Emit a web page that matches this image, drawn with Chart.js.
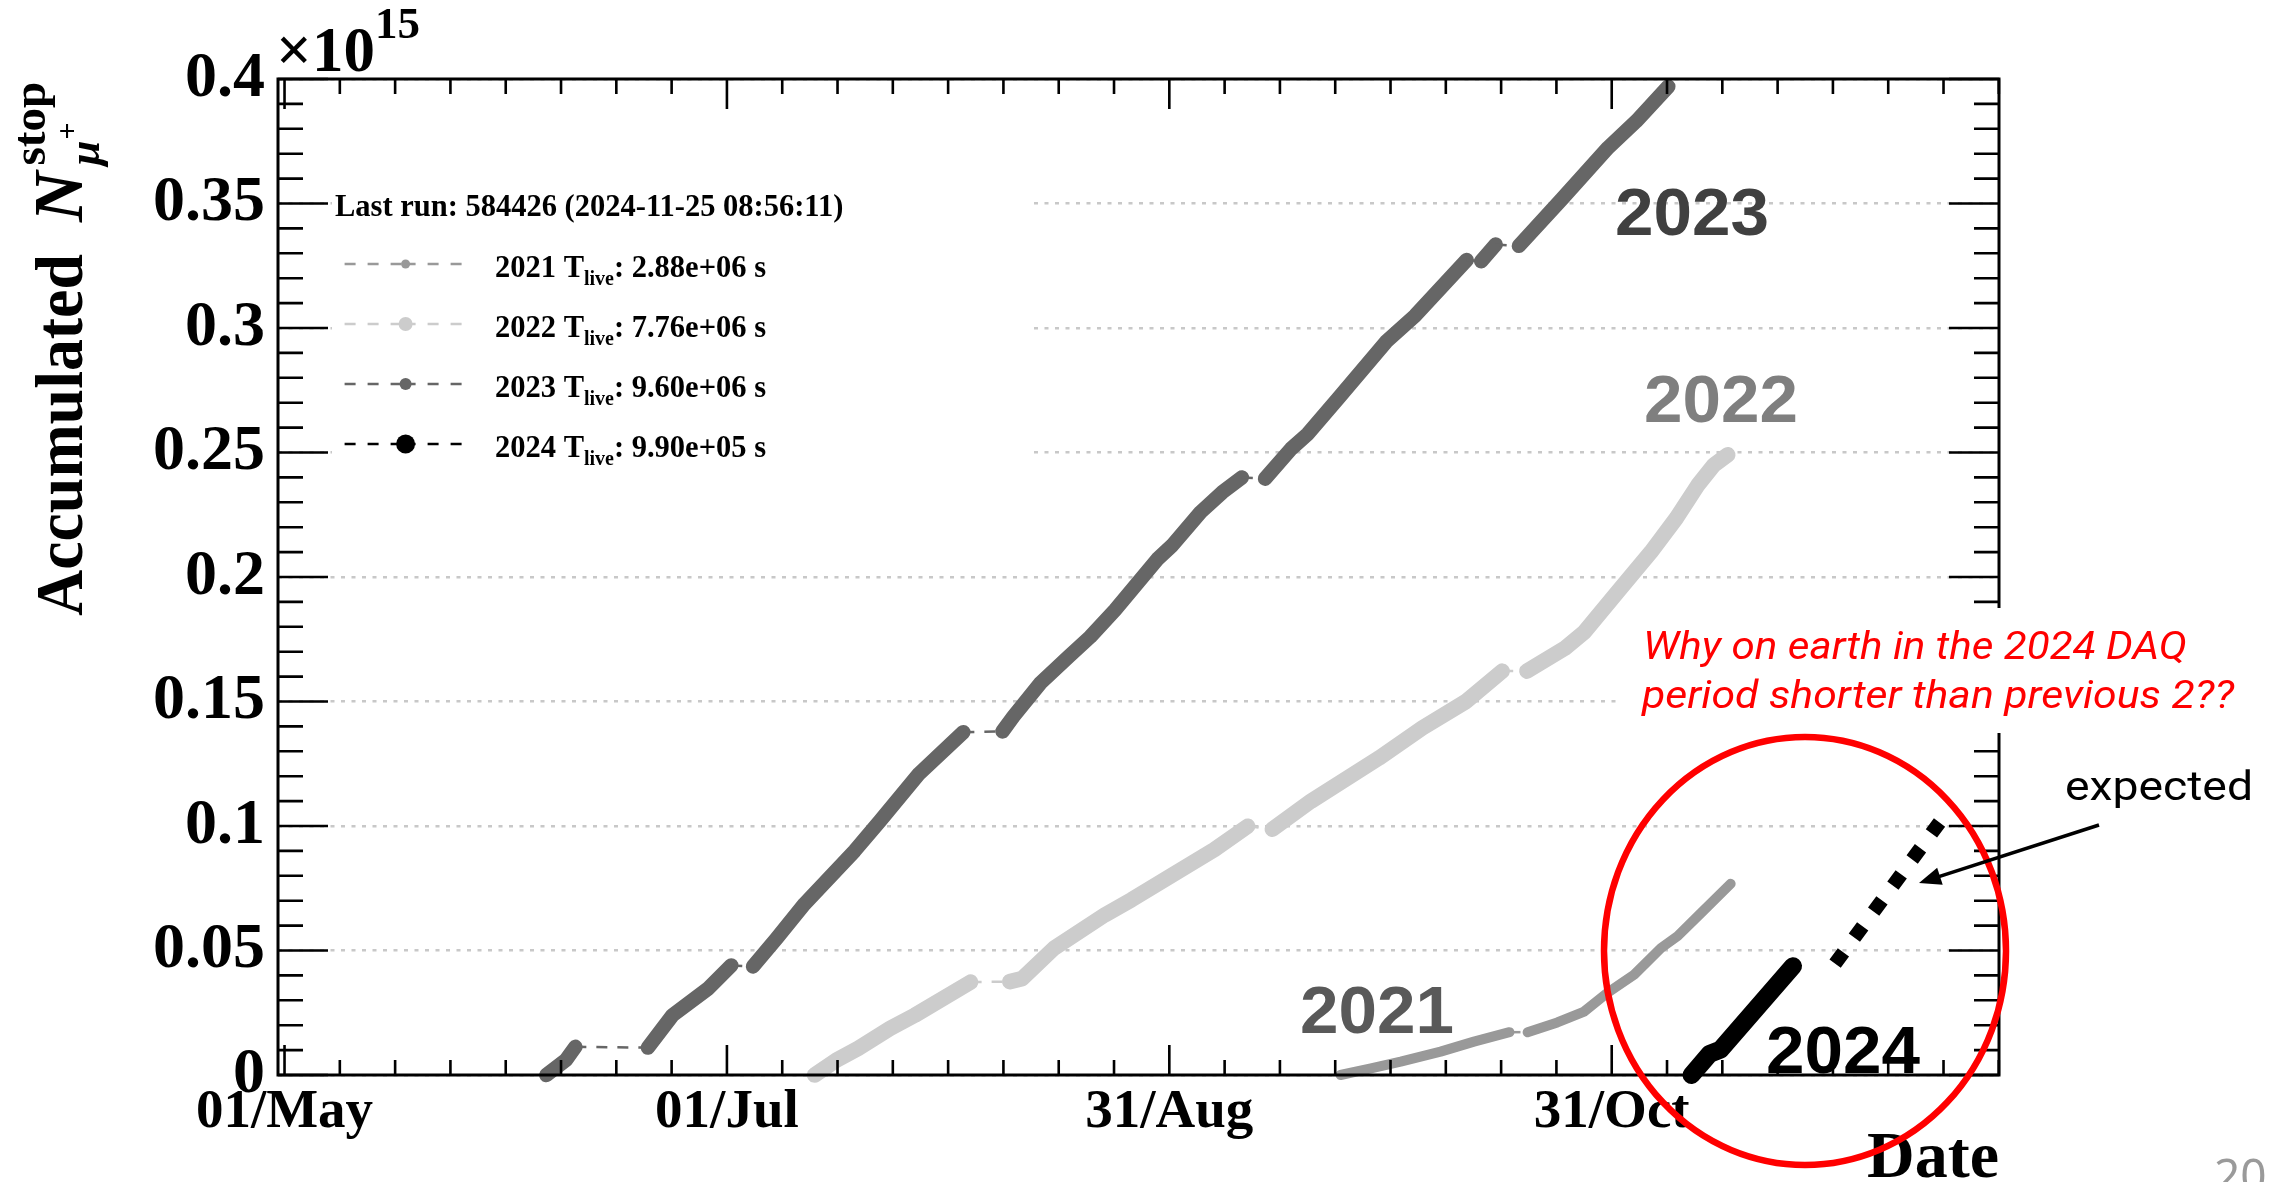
<!DOCTYPE html>
<html>
<head>
<meta charset="utf-8">
<title>Accumulated stopped mu+ per run year</title>
<script src="https://cdn.jsdelivr.net/npm/chart.js"></script>
<style>
  html, body { margin: 0; padding: 0; background: #ffffff; }
  canvas { display: block; }
</style>
</head>
<body>
<canvas id="chart" width="2273" height="1182"></canvas>
<script>
// Accumulated number of stopped mu+ against calendar date, one curve per run year.
// x: days counted from 01/May, y: accumulated count in units of 1e15.

const xTickDates  = ['05-01', '07-01', '08-31', '10-31'];
const xTickLabels = ['01/May', '01/Jul', '31/Aug', '31/Oct'];
const yTickValues = [0, 0.05, 0.1, 0.15, 0.2, 0.25, 0.3, 0.35, 0.4];
const yTickLabels = ['0', '0.05', '0.1', '0.15', '0.2', '0.25', '0.3', '0.35', '0.4'];

// Each inner array is one continuous stretch of data taking; the gaps between
// stretches are drawn as thin dashed connectors.
const days2021 = [
  [145.6, 149.8, 153.9, 159.4, 164.0, 168.9],
  [171.4, 175.5, 179.2, 182.4, 186.1, 189.8, 192.1, 195.3, 199.4]
];
const vals2021 = [
  [0, 0.0027, 0.0054, 0.0094, 0.0134, 0.0172],
  [0.0172, 0.0211, 0.0255, 0.0330, 0.0403, 0.0510, 0.0558, 0.0650, 0.0768]
];

const days2022 = [
  [73.1, 76.1, 79.1, 83.5, 86.9, 94.6],
  [100.0, 101.7, 106.1, 113.1, 116.8, 122.1, 128.2, 132.8],
  [136.2, 141.5, 150.9, 156.9, 162.9, 167.9],
  [171.3, 176.5, 179.2, 183.8, 188.4, 191.9, 194.9, 197.1, 199.0]
];
const vals2022 = [
  [0, 0.0060, 0.0107, 0.0187, 0.0240, 0.0373],
  [0.0375, 0.0387, 0.0509, 0.0643, 0.0704, 0.0798, 0.0905, 0.0999],
  [0.0987, 0.1099, 0.1273, 0.1394, 0.1500, 0.1622],
  [0.1622, 0.1713, 0.1778, 0.1940, 0.2100, 0.2236, 0.2370, 0.2450, 0.2491]
];

const days2023 = [
  [36.1, 38.8, 40.1],
  [50.1, 53.5, 58.4, 61.6],
  [64.6, 67.8, 71.7, 78.6, 82.1, 87.5, 93.6],
  [99.0, 100.5, 104.2, 108.1, 111.1, 114.5, 120.4, 122.4, 126.3, 129.3, 132.0],
  [135.2, 138.8, 141.1, 145.3, 151.9, 155.9, 163.0],
  [165.0, 167.0],
  [170.2, 176.1, 182.5, 186.4, 190.8]
];
const vals2023 = [
  [0, 0.0060, 0.0113],
  [0.0110, 0.0240, 0.0347, 0.0440],
  [0.0436, 0.0547, 0.0687, 0.0900, 0.1020, 0.1210, 0.1377],
  [0.1380, 0.1440, 0.1573, 0.1680, 0.1760, 0.1867, 0.2073, 0.2127, 0.2260, 0.2340, 0.2400],
  [0.2395, 0.2515, 0.2575, 0.2718, 0.2945, 0.3050, 0.3273],
  [0.3268, 0.3335],
  [0.3330, 0.3517, 0.3724, 0.3831, 0.3970]
];

const days2024 = [[194.0, 196.5, 198.0, 208.0]];
const vals2024 = [[0, 0.0085, 0.0102, 0.0437]];

// Extrapolation of the 2024 rate ("expected")
const expectedDays = [213.8, 228.2];
const expectedVals = [0.0447, 0.1014];

const legendYears = ['2021', '2022', '2023', '2024'];
const legendTlive = ['2.88e+06', '7.76e+06', '9.60e+06', '9.90e+05'];
const lastRunText = 'Last run: 584426 (2024-11-25 08:56:11)';

const seriesColors = { '2021': '#999999', '2022': '#cccccc', '2023': '#666666', '2024': '#000000' };
const seriesWidths = { '2021': 10, '2022': 15.5, '2023': 14.5, '2024': 18 };
const legendMarkerR = { '2021': 4.5, '2022': 7, '2023': 6, '2024': 9.5 };

const SERIF = '"Liberation Serif", "Times New Roman", serif';
const SANS = '"Liberation Sans", Arial, sans-serif';

function dayOfSeason(md) {
  const [m, d] = md.split('-').map(Number);
  return (Date.UTC(2021, m - 1, d) - Date.UTC(2021, 4, 1)) / 86400000;
}
const xTickDays = xTickDates.map(dayOfSeason);
const xMajorStep = xTickDays[1] - xTickDays[0];
const xMinorStep = xMajorStep / 8;

function buildSeries(dayRuns, valRuns) {
  const pts = [];
  const gapAfter = new Set();
  dayRuns.forEach((run, r) => {
    run.forEach((d, i) => pts.push({ x: d, y: valRuns[r][i] }));
    if (r < dayRuns.length - 1) gapAfter.add(pts.length - 1);
  });
  return { pts, gapAfter };
}

function seriesDataset(year, dayRuns, valRuns) {
  const { pts, gapAfter } = buildSeries(dayRuns, valRuns);
  const isGap = ctx => gapAfter.has(ctx.p0DataIndex);
  return {
    label: year,
    data: pts,
    showLine: true,
    borderColor: seriesColors[year],
    backgroundColor: seriesColors[year],
    borderWidth: seriesWidths[year],
    borderCapStyle: 'round',
    borderJoinStyle: 'round',
    pointRadius: 0,
    tension: 0,
    clip: false,
    segment: {
      borderWidth: ctx => isGap(ctx) ? 2.5 : undefined,
      borderDash: ctx => isGap(ctx) ? [11, 10] : undefined,
      borderCapStyle: ctx => isGap(ctx) ? 'butt' : undefined
    }
  };
}

const datasets = [
  seriesDataset('2024', days2024, vals2024),
  {
    label: 'expected',
    data: expectedDays.map((d, i) => ({ x: d, y: expectedVals[i] })),
    showLine: true,
    borderColor: '#000000',
    borderWidth: 14,
    borderDash: [14, 18.4],
    borderCapStyle: 'butt',
    pointRadius: 0,
    clip: false
  },
  seriesDataset('2023', days2023, vals2023),
  seriesDataset('2022', days2022, vals2022),
  seriesDataset('2021', days2021, vals2021)
];

// White legend block with the run summary (drawn over the grid, under the data)
const runLegend = {
  id: 'runLegend',
  beforeDatasetsDraw(chart) {
    const ctx = chart.ctx;
    ctx.save();
    ctx.fillStyle = '#ffffff';
    ctx.fillRect(332, 160, 700, 320);
    ctx.fillStyle = '#000000';
    ctx.textBaseline = 'alphabetic';
    ctx.textAlign = 'left';
    ctx.font = 'bold 30.5px ' + SERIF;
    ctx.fillText(lastRunText, 335, 216);
    legendYears.forEach((yr, i) => {
      const cy = 264 + i * 60;
      const col = seriesColors[yr];
      ctx.strokeStyle = col;
      ctx.lineWidth = 2.5;
      ctx.setLineDash([11, 12]);
      ctx.beginPath(); ctx.moveTo(344.6, cy); ctx.lineTo(405.6, cy); ctx.stroke();
      ctx.beginPath(); ctx.moveTo(461.6, cy); ctx.lineTo(405.6, cy); ctx.stroke();
      ctx.setLineDash([]);
      ctx.fillStyle = col;
      ctx.beginPath(); ctx.arc(405.6, cy, legendMarkerR[yr], 0, Math.PI * 2); ctx.fill();
      ctx.fillStyle = '#000000';
      let x = 495;
      const base = cy + 12.5;
      ctx.font = 'bold 30.5px ' + SERIF;
      const head = yr + ' T';
      ctx.fillText(head, x, base);
      x += ctx.measureText(head).width;
      ctx.font = 'bold 20px ' + SERIF;
      ctx.fillText('live', x, base + 8);
      x += ctx.measureText('live').width;
      ctx.font = 'bold 30.5px ' + SERIF;
      ctx.fillText(': ' + legendTlive[i] + ' s', x, base);
    });
    ctx.restore();
  }
};

// Frame with inward ticks on all four sides
const frameTicks = {
  id: 'frameTicks',
  afterDatasetsDraw(chart) {
    const { ctx, chartArea: a, scales: { x, y } } = chart;
    ctx.save();
    ctx.strokeStyle = '#000000';
    ctx.lineWidth = 2.6;
    ctx.beginPath();
    for (let k = 0; ; k++) {
      const v = xTickDays[0] + k * xMinorStep;
      if (v > x.max) break;
      const px = x.getPixelForValue(v);
      const len = (k % 8 === 0) ? 30 : 15;
      ctx.moveTo(px, a.bottom); ctx.lineTo(px, a.bottom - len);
      ctx.moveTo(px, a.top); ctx.lineTo(px, a.top + len);
    }
    const yMinor = (yTickValues[1] - yTickValues[0]) / 5;
    for (let k = 0; k <= 40; k++) {
      const v = k * yMinor;
      if (v > y.max + 1e-9) break;
      const py = y.getPixelForValue(v);
      const len = (k % 5 === 0) ? 50 : 25;
      ctx.moveTo(a.left, py); ctx.lineTo(a.left + len, py);
      ctx.moveTo(a.right, py); ctx.lineTo(a.right - len, py);
    }
    ctx.stroke();
    ctx.lineWidth = 3;
    ctx.strokeRect(a.left, a.top, a.right - a.left, a.bottom - a.top);
    ctx.restore();
  }
};

function fitText(ctx, text, x, baseline, font, width) {
  ctx.font = font;
  const w = ctx.measureText(text).width;
  ctx.save();
  ctx.translate(x, baseline);
  ctx.scale(width / w, 1);
  ctx.fillText(text, 0, 0);
  ctx.restore();
}

// Axis titles, year tags and the hand-drawn remarks
const annotations = {
  id: 'annotations',
  afterDraw(chart) {
    const { ctx, chartArea: a } = chart;
    ctx.save();
    ctx.textAlign = 'left';
    ctx.textBaseline = 'alphabetic';

    // exponent
    ctx.fillStyle = '#000000';
    ctx.font = 'bold 63px ' + SERIF;
    ctx.fillText('\u00d710', 276, 71);
    const wx = ctx.measureText('\u00d710').width;
    ctx.font = 'bold 45px ' + SERIF;
    ctx.fillText('15', 276 + wx, 38);

    // x title
    ctx.font = 'bold 66px ' + SERIF;
    ctx.textAlign = 'right';
    ctx.fillText('Date', a.right, 1177);
    ctx.textAlign = 'left';

    // y title
    ctx.save();
    ctx.translate(82, 616);
    ctx.rotate(-Math.PI / 2);
    fitText(ctx, 'Accumulated', 0, 0, 'bold 68px ' + SERIF, 362);
    ctx.font = 'italic bold 70px ' + SERIF;
    ctx.fillText('N', 394, 0);
    const nEnd = 394 + ctx.measureText('N').width;
    ctx.font = 'bold 47px ' + SERIF;
    ctx.fillText('stop', nEnd + 6, -37);
    ctx.font = 'italic bold 45px ' + SERIF;
    ctx.fillText('\u03bc', nEnd + 6, 17);
    const muEnd = nEnd + 6 + ctx.measureText('\u03bc').width;
    ctx.font = 'bold 30px ' + SERIF;
    ctx.fillText('+', muEnd + 1, -5);
    ctx.restore();

    // year tags
    const tag = (t, x, b, c) => { ctx.fillStyle = c; fitText(ctx, t, x, b, 'bold 67px ' + SANS, 154); };
    tag('2023', 1615, 235, '#404040');
    tag('2022', 1644, 422, '#7f7f7f');
    tag('2021', 1300, 1033, '#595959');
    tag('2024', 1766, 1073, '#000000');

    // remark on a white text box
    ctx.fillStyle = '#ffffff';
    ctx.fillRect(1621, 608, 652, 125);
    ctx.fillStyle = '#ff0000';
    fitText(ctx, 'Why on earth in the 2024 DAQ', 1643, 659, 'italic 38px Roboto, "Noto Sans", sans-serif', 544);
    fitText(ctx, 'period shorter than previous 2??', 1642, 708, 'italic 38px Roboto, "Noto Sans", sans-serif', 592);

    ctx.strokeStyle = '#ff0000';
    ctx.lineWidth = 6.5;
    ctx.beginPath();
    ctx.ellipse(1805, 951, 201, 214, 0, 0, Math.PI * 2);
    ctx.stroke();

    // "expected" pointer
    ctx.fillStyle = '#000000';
    fitText(ctx, 'expected', 2065, 800, '40px Roboto, "Noto Sans", sans-serif', 188);
    const tx = 2099, ty = 825, hx = 1919, hy = 883;
    const L = Math.hypot(hx - tx, hy - ty);
    const ux = (hx - tx) / L, uy = (hy - ty) / L;
    ctx.strokeStyle = '#000000';
    ctx.lineWidth = 3.5;
    ctx.beginPath();
    ctx.moveTo(tx, ty);
    ctx.lineTo(hx - ux * 16, hy - uy * 16);
    ctx.stroke();
    ctx.beginPath();
    ctx.moveTo(hx, hy);
    ctx.lineTo(hx - ux * 22 - uy * 9, hy - uy * 22 + ux * 9);
    ctx.lineTo(hx - ux * 22 + uy * 9, hy - uy * 22 - ux * 9);
    ctx.closePath();
    ctx.fill();

    // page number
    ctx.fillStyle = '#9a9a9a';
    ctx.font = '46px "Noto Sans", sans-serif';
    ctx.fillText('20', 2214, 1192);

    ctx.restore();
  }
};

new Chart(document.getElementById('chart'), {
  type: 'scatter',
  data: { datasets },
  options: {
    responsive: false,
    animation: false,
    devicePixelRatio: 1,
    events: [],
    layout: { padding: { top: 79, right: 274, left: 0, bottom: 0 } },
    plugins: { legend: { display: false }, tooltip: { enabled: false } },
    scales: {
      x: {
        type: 'linear',
        min: -0.9,
        max: 236.4,
        afterFit: s => { s.height = 107; },
        afterBuildTicks: s => { s.ticks = xTickDays.map(v => ({ value: v })); },
        grid: { display: false, drawTicks: false },
        border: { display: false },
        ticks: {
          autoSkip: false,
          maxRotation: 0,
          minRotation: 0,
          padding: 10,
          color: '#000000',
          font: { family: SERIF, weight: 'bold', size: 55, lineHeight: 1 },
          callback: (v, i) => xTickLabels[i]
        }
      },
      y: {
        type: 'linear',
        min: 0,
        max: 0.4,
        afterFit: s => { s.width = 278; },
        afterBuildTicks: s => { s.ticks = yTickValues.map(v => ({ value: v })); },
        grid: { color: '#c8c8c8', lineWidth: 2.5, drawTicks: false },
        border: { display: false, dash: [4, 6.5] },
        ticks: {
          padding: 13,
          color: '#000000',
          font: { family: SERIF, weight: 'bold', size: 64, lineHeight: 1 },
          callback: (v, i) => yTickLabels[i]
        }
      }
    }
  },
  plugins: [runLegend, frameTicks, annotations]
});
</script>
</body>
</html>
